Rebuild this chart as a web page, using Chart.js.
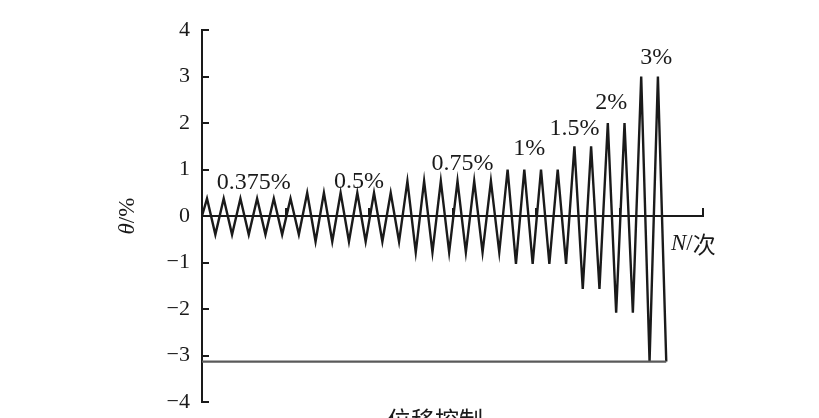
<!DOCTYPE html>
<html>
<head>
<meta charset="utf-8">
<script src="https://cdn.jsdelivr.net/npm/chart.js@4.4.1/dist/chart.umd.min.js"></script>
<style>
  html, body { margin: 0; padding: 0; background: #fff; }
  #wrap { width: 819px; height: 418px; overflow: hidden; }
</style>
</head>
<body>
<div id="wrap"><canvas id="chart" width="819" height="418"></canvas></div>
<script>
// loading cycles (theta in %)
const cycleNo = [1, 2, 3, 4, 5, 6, 7, 8, 9, 10, 11, 12, 13, 14, 15, 16, 17, 18, 19, 20, 21, 22, 23, 24, 25, 26, 27, 28];
const peakTheta = [0.375, 0.375, 0.375, 0.375, 0.375, 0.375,
  0.5, 0.5, 0.5, 0.5, 0.5, 0.5,
  0.75, 0.75, 0.75, 0.75, 0.75, 0.75,
  1, 1, 1, 1,
  1.5, 1.5, 2, 2, 3, 3];
const troughTheta = [-0.4, -0.4, -0.4, -0.4, -0.4, -0.4,
  -0.55, -0.55, -0.55, -0.55, -0.55, -0.55,
  -0.78, -0.78, -0.78, -0.78, -0.78, -0.78,
  -1.03, -1.03, -1.03, -1.03,
  -1.57, -1.57, -2.08, -2.08, -3.13, -3.13];
const baseTheta = -3.13;
const levelLabels = ["0.375%", "0.5%", "0.75%", "1%", "1.5%", "2%", "3%"];
const yTicks = [-4, -3, -2, -1, 0, 1, 2, 3, 4];
const xTicks = [0, 5, 10, 15, 20, 25, 30];

// build the zig-zag: start on zero, peak then trough inside each cycle
const wave = [{ x: 0, y: 0 }];
cycleNo.forEach((n, i) => {
  wave.push({ x: n - 0.7, y: peakTheta[i] });
  wave.push({ x: n - 0.2, y: troughTheta[i] });
});
const lastX = wave[wave.length - 1].x;
const baseLine = [{ x: lastX, y: baseTheta }, { x: 0, y: baseTheta }];

// where each level label sits, in data units
const labelAt = [[3.1, 0.71], [9.4, 0.73], [15.6, 1.12], [19.6, 1.44], [22.3, 1.87], [24.5, 2.44], [27.2, 3.41]];

const serif = "'Liberation Serif', 'DejaVu Serif', serif";
const ink = "#1a1a1a";

const textPlugin = {
  id: "texts",
  afterDraw(chart) {
    const ctx = chart.ctx;
    const xs = chart.scales.x, ys = chart.scales.y;
    ctx.save();
    ctx.fillStyle = ink;
    ctx.textBaseline = "middle";
    ctx.textAlign = "center";
    ctx.font = "24px " + serif;
    levelLabels.forEach((t, i) => {
      ctx.fillText(t, xs.getPixelForValue(labelAt[i][0]), ys.getPixelForValue(labelAt[i][1]));
    });

    // axis title theta/%
    ctx.save();
    ctx.translate(128, ys.getPixelForValue(0));
    ctx.rotate(-Math.PI / 2);
    ctx.textAlign = "left";
    ctx.font = "italic 23px " + serif;
    const w1 = ctx.measureText("θ").width;
    ctx.font = "23px " + serif;
    const w2 = ctx.measureText("/%").width;
    const x0 = -(w1 + w2) / 2;
    ctx.font = "italic 23px " + serif;
    ctx.fillText("θ", x0, 0);
    ctx.font = "23px " + serif;
    ctx.fillText("/%", x0 + w1, 0);
    ctx.restore();

    // N/次
    ctx.textAlign = "left";
    ctx.font = "italic 23px " + serif;
    ctx.fillText("N", 671, 244);
    const wn = ctx.measureText("N").width;
    ctx.font = "23px " + serif;
    ctx.fillText("/", 671 + wn, 244);
    const ws = ctx.measureText("/").width;
    ctx.font = "23px 'Noto Sans CJK SC', sans-serif";
    ctx.fillText("次", 671 + wn + ws, 244);

    // caption, cut by the bottom edge
    ctx.textAlign = "center";
    ctx.textBaseline = "top";
    ctx.font = "24px 'Noto Sans CJK SC', sans-serif";
    ctx.fillText("位移控制", 435, 408);
    ctx.restore();
  }
};

new Chart(document.getElementById("chart"), {
  type: "scatter",
  data: {
    datasets: [
      { data: baseLine, showLine: true, borderColor: "#5a5a5a", borderWidth: 2.2, pointRadius: 0 },
      { data: wave, showLine: true, borderColor: ink, borderWidth: 2.4, pointRadius: 0, tension: 0 }
    ]
  },
  options: {
    responsive: false,
    animation: false,
    events: [],
    layout: { padding: { left: 0, top: 30, right: 116, bottom: 16 } },
    plugins: { legend: { display: false }, tooltip: { enabled: false } },
    scales: {
      x: {
        type: "linear",
        position: { y: 0 },
        min: 0,
        max: 30,
        afterBuildTicks: (s) => { s.ticks = xTicks.map((v) => ({ value: v })); },
        afterFit: (s) => { s.height = 0; s.paddingLeft = 0; s.paddingRight = 0; },
        ticks: { display: false },
        border: { color: ink, width: 2 },
        grid: { drawOnChartArea: false, drawTicks: true, tickLength: -9, color: ink, lineWidth: 2 }
      },
      y: {
        type: "linear",
        min: -4,
        max: 4,
        afterBuildTicks: (s) => { s.ticks = yTicks.map((v) => ({ value: v })); },
        afterFit: (s) => { s.width = 202; s.paddingTop = 0; s.paddingBottom = 0; },
        ticks: {
          color: ink,
          padding: 19,
          font: { family: serif, size: 22 },
          callback: (v) => (v < 0 ? "\u2212" + Math.abs(v) : String(v))
        },
        border: { color: ink, width: 2 },
        grid: { drawOnChartArea: false, drawTicks: true, tickLength: -7, color: ink, lineWidth: 2 }
      }
    }
  },
  plugins: [textPlugin]
});
</script>
</body>
</html>
